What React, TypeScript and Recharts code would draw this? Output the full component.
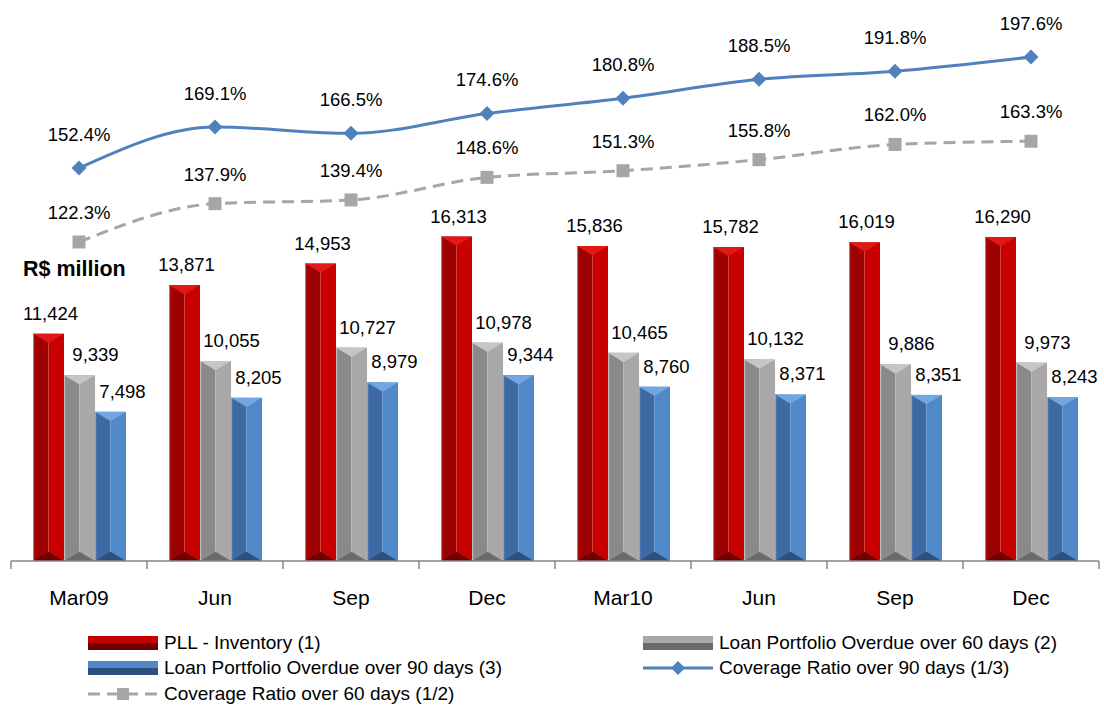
import { ComposedChart, Bar, Line, XAxis, YAxis, LabelList } from 'recharts';

const periods = ['Mar09', 'Jun', 'Sep', 'Dec', 'Mar10', 'Jun', 'Sep', 'Dec'];
const pll = [11424, 13871, 14953, 16313, 15836, 15782, 16019, 16290];
const overdue60 = [9339, 10055, 10727, 10978, 10465, 10132, 9886, 9973];
const overdue90 = [7498, 8205, 8979, 9344, 8760, 8371, 8351, 8243];
const coverage90 = [152.4, 169.1, 166.5, 174.6, 180.8, 188.5, 191.8, 197.6];
const coverage60 = [122.3, 137.9, 139.4, 148.6, 151.3, 155.8, 162.0, 163.3];

const data = periods.map((p, i) => ({
  key: `${p}-${i}`,
  label: p,
  pll: pll[i],
  overdue60: overdue60[i],
  overdue90: overdue90[i],
  coverage90: coverage90[i],
  coverage60: coverage60[i],
}));

const FONT = '"Liberation Sans", Arial, sans-serif';

const palettes = {
  red: { left: '#9E0000', right: '#C80000', top: '#E01818', bottom: '#6E0000', edge: '#D96060' },
  gray: { left: '#8A8A8A', right: '#A8A8A8', top: '#C6C6C6', bottom: '#6A6A6A', edge: '#BDBDBD' },
  blue: { left: '#3D6AA3', right: '#5088C8', top: '#72A6E2', bottom: '#2C4F7E', edge: '#7FA3CF' },
};

type Pal = typeof palettes.red;

const bevelBar = (pal: Pal) => (props: any) => {
  const { x, y, width, height } = props;
  if (!height || height <= 0) return null;
  const half = width / 2;
  const tri = width * 0.3;
  return (
    <g>
      <rect x={x} y={y} width={half} height={height} fill={pal.left} />
      <rect x={x + half} y={y} width={width - half} height={height} fill={pal.right} />
      <rect x={x} y={y} width={1.2} height={height} fill={pal.edge} />
      <polygon points={`${x},${y} ${x + width},${y} ${x + half},${y + tri}`} fill={pal.top} />
      <polygon points={`${x},${y + height} ${x + width},${y + height} ${x + half},${y + height - tri}`} fill={pal.bottom} />
    </g>
  );
};

const fmt = (v: number) => v.toLocaleString('en-US');

const barLabel = (dx: number) => (props: any) => {
  const { x, y, width, value } = props;
  return (
    <text x={x + width / 2 + dx} y={y - 14} textAnchor="middle" fontFamily={FONT} fontSize={18.5} fill="#000">
      {fmt(value)}
    </text>
  );
};

const lineLabel = (dy: number) => (props: any) => {
  const { x, y, value } = props;
  return (
    <text x={x} y={y - dy} textAnchor="middle" fontFamily={FONT} fontSize={18.5} fill="#000">
      {value.toFixed(1)}%
    </text>
  );
};

const Diamond = (props: any) => {
  const { cx, cy } = props;
  const r = 7.5;
  return <polygon points={`${cx},${cy - r} ${cx + r},${cy} ${cx},${cy + r} ${cx - r},${cy}`} fill="#4F81BD" />;
};

const Square = (props: any) => {
  const { cx, cy } = props;
  const s = 13;
  return <rect x={cx - s / 2} y={cy - s / 2} width={s} height={s} fill="#A6A6A6" />;
};

const BAND = 136;

const AxisTick = (props: any) => {
  const { x, y, payload, index } = props;
  const left = x - BAND / 2;
  return (
    <g>
      <line x1={left} y1={y - 8} x2={left} y2={y} stroke="#868686" strokeWidth={1.5} />
      {index === periods.length - 1 && (
        <line x1={left + BAND} y1={y - 8} x2={left + BAND} y2={y} stroke="#868686" strokeWidth={1.5} />
      )}
      <text x={x} y={y + 36} textAnchor="middle" fontFamily={FONT} fontSize={21} fill="#000">
        {data[index] ? data[index].label : payload.value}
      </text>
    </g>
  );
};

const legendBar = (pal: Pal) => (
  <svg width={70} height={14}>
    <rect x={0} y={0} width={70} height={7} fill={pal.right} />
    <rect x={0} y={7} width={70} height={7} fill={pal.bottom} />
  </svg>
);

const legendText = { fontFamily: FONT, fontSize: 19, lineHeight: '22px', color: '#000', marginLeft: 6, whiteSpace: 'nowrap' as const };

export default function App() {
  return (
    <div style={{ position: 'relative', width: 1104, height: 706, background: '#fff', overflow: 'hidden' }}>
      <style>{`body{margin:0}`}</style>
      <ComposedChart
        width={1104}
        height={620}
        data={data}
        margin={{ top: 10, right: 5, left: 11, bottom: 0 }}
        barGap={0}
        barCategoryGap={22}
      >
        <XAxis
          dataKey="key"
          height={59}
          axisLine={{ stroke: '#868686', strokeWidth: 1.5 }}
          tickLine={false}
          tick={<AxisTick />}
          interval={0}
        />
        <YAxis yAxisId="left" hide domain={[0, 27700]} />
        <YAxis yAxisId="right" hide domain={[-7.5, 216.7]} />
        <Bar yAxisId="left" dataKey="pll" barSize={31} shape={bevelBar(palettes.red)} isAnimationActive={false}>
          <LabelList dataKey="pll" content={barLabel(2)} />
        </Bar>
        <Bar yAxisId="left" dataKey="overdue60" barSize={31} shape={bevelBar(palettes.gray)} isAnimationActive={false}>
          <LabelList dataKey="overdue60" content={barLabel(16)} />
        </Bar>
        <Bar yAxisId="left" dataKey="overdue90" barSize={31} shape={bevelBar(palettes.blue)} isAnimationActive={false}>
          <LabelList dataKey="overdue90" content={barLabel(12)} />
        </Bar>
        <Line
          yAxisId="right"
          type="monotone"
          dataKey="coverage60"
          stroke="#A6A6A6"
          strokeWidth={3}
          strokeDasharray="12 7"
          dot={<Square />}
          activeDot={false}
          isAnimationActive={false}
        >
          <LabelList dataKey="coverage60" content={lineLabel(23)} />
        </Line>
        <Line
          yAxisId="right"
          type="monotone"
          dataKey="coverage90"
          stroke="#4F81BD"
          strokeWidth={3}
          dot={<Diamond />}
          activeDot={false}
          isAnimationActive={false}
        >
          <LabelList dataKey="coverage90" content={lineLabel(27)} />
        </Line>
      </ComposedChart>

      <div style={{ position: 'absolute', left: 23, top: 257, fontFamily: FONT, fontSize: 21.5, fontWeight: 'bold' }}>
        R$ million
      </div>

      <div style={{ position: 'absolute', left: 88, top: 632, display: 'flex', alignItems: 'center' }}>
        {legendBar(palettes.red)}
        <span style={legendText}>PLL - Inventory (1)</span>
      </div>
      <div style={{ position: 'absolute', left: 643, top: 632, display: 'flex', alignItems: 'center' }}>
        {legendBar(palettes.gray)}
        <span style={legendText}>Loan Portfolio Overdue over 60 days (2)</span>
      </div>
      <div style={{ position: 'absolute', left: 88, top: 657, display: 'flex', alignItems: 'center' }}>
        {legendBar(palettes.blue)}
        <span style={legendText}>Loan Portfolio Overdue over 90 days (3)</span>
      </div>
      <div style={{ position: 'absolute', left: 643, top: 657, display: 'flex', alignItems: 'center' }}>
        <svg width={70} height={16}>
          <line x1={0} y1={8} x2={70} y2={8} stroke="#4F81BD" strokeWidth={3} />
          <polygon points="35,1 42,8 35,15 28,8" fill="#4F81BD" />
        </svg>
        <span style={legendText}>Coverage Ratio over 90 days (1/3)</span>
      </div>
      <div style={{ position: 'absolute', left: 88, top: 683, display: 'flex', alignItems: 'center' }}>
        <svg width={70} height={16}>
          <line x1={0} y1={8} x2={70} y2={8} stroke="#A6A6A6" strokeWidth={3} strokeDasharray="12 7" />
          <rect x={29} y={2} width={12} height={12} fill="#A6A6A6" />
        </svg>
        <span style={legendText}>Coverage Ratio over 60 days (1/2)</span>
      </div>
    </div>
  );
}
